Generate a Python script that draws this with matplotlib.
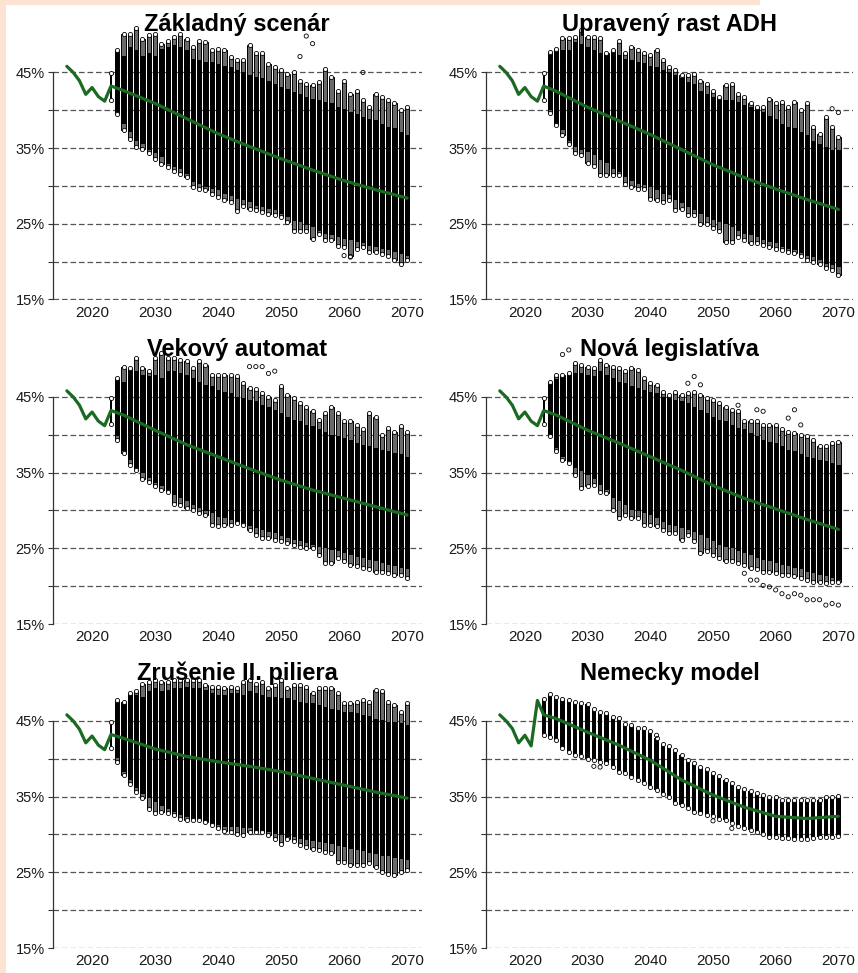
import matplotlib
matplotlib.use("Agg")
import matplotlib.pyplot as plt
from matplotlib.patches import Rectangle
import numpy as np

plt.rcParams['font.family'] = ['Liberation Sans', 'DejaVu Sans']

# ---------------- data (percent) ----------------
YEARS = list(range(2024, 2071))          # simulated columns, panels 1-5
YEARS6 = list(range(2023, 2071))         # panel 6 starts one year earlier
HIST_YEARS = list(range(2016, 2023))
MED_YEARS = [2023, 2025, 2030, 2035, 2040, 2045, 2050, 2055, 2060, 2065, 2070]

HIST = [45.8, 45.0, 43.9, 42.1, 43.0, 41.8, 41.2]
HIST6 = [45.8, 45.0, 44.0, 42.1, 43.1, 41.7, 47.7]

# 2023 narrow column (panels 1-5)
Y2023_HI = 44.9
Y2023_LO = 41.4

TITLES = ['Základný scenár', 'Upravený rast ADH', 'Vekový automat',
          'Nová legislatíva', 'Zrušenie II. piliera', 'Nemecky model']

# Základný scenár
P1_HI = [47.7, 47.2, 48.3, 47.9, 47.2, 47.5, 47.2, 48.1, 48.3, 48.6, 48.3, 47.9,
         46.8, 46.6, 46.4, 46.4, 46.1, 45.9, 45.7, 45.3, 45.0, 44.6,
         44.4, 44.2, 43.9, 43.5, 43.1, 42.8, 42.4, 42.2, 41.7, 41.5,
         41.3, 41.1, 40.9, 40.4, 40.2, 39.8, 39.5, 39.1, 38.9, 38.7,
         38.2, 37.8, 37.6, 37.1, 36.7]
P1_TOP = [47.9, 50.1, 50.1, 50.8, 49.4, 49.9, 50.1, 48.8, 49.2, 49.7, 50.1, 49.4,
          48.3, 49.2, 49.0, 47.9, 48.1, 47.9, 47.0, 46.6, 46.6, 48.6,
          47.5, 47.5, 46.1, 45.7, 45.3, 44.8, 45.0, 43.9, 43.5, 43.3,
          43.7, 45.5, 44.4, 42.6, 43.9, 42.2, 42.6, 41.3, 40.4, 42.2,
          41.7, 41.3, 40.9, 40.0, 40.4]
P1_LO = [39.8, 38.2, 37.1, 36.0, 35.6, 34.7, 34.3, 33.8, 32.9, 32.5, 32.3, 31.6,
         30.5, 30.3, 29.8, 29.6, 29.4, 29.0, 28.7, 28.3, 28.1, 27.9,
         27.4, 27.2, 27.0, 26.8, 26.3, 25.9, 25.4, 25.2, 24.8, 24.6,
         24.1, 23.7, 23.5, 23.2, 23.0, 22.8, 22.6, 22.4, 22.1, 21.9,
         21.7, 21.5, 21.3, 21.0, 20.8]
P1_BOT = [39.5, 37.4, 36.2, 35.1, 34.9, 34.3, 33.6, 32.9, 32.5, 32.0, 31.6, 31.2,
          29.8, 29.6, 29.4, 29.0, 28.5, 28.1, 27.9, 26.7, 27.4, 27.0,
          26.8, 26.5, 26.3, 26.1, 25.9, 25.2, 24.1, 24.1, 24.1, 23.0,
          23.7, 22.8, 22.8, 22.1, 21.9, 20.8, 21.7, 21.9, 21.3, 21.3,
          21.0, 20.8, 20.2, 19.7, 20.2]
P1_MED = [43.2, 42.6, 40.9, 38.9, 36.9, 35.2, 33.6, 32.1, 30.7, 29.5, 28.4]
P1_OUT_X = [2053, 2054, 2055, 2063, 2061, 2060]
P1_OUT_Y = [47.1, 49.8, 48.8, 45.0, 20.6, 20.8]

# Upravený rast ADH
P2_HI = [47.3, 47.7, 47.9, 47.9, 49.0, 48.8, 48.4, 47.9, 47.5, 47.3, 47.5, 47.3,
         46.8, 46.6, 46.4, 46.2, 45.9, 45.7, 45.3, 45.0, 44.6, 44.2,
         43.7, 43.5, 42.6, 42.2, 41.8, 41.3, 41.3, 41.3, 41.1, 40.7,
         40.4, 40.0, 39.8, 39.3, 38.9, 38.2, 37.8, 37.6, 37.1, 36.7,
         36.0, 35.6, 35.2, 34.7, 34.7]
P2_TOP = [47.7, 48.1, 49.5, 49.5, 49.7, 50.6, 49.7, 49.7, 49.5, 47.5, 47.9, 49.2,
          47.5, 48.4, 47.9, 47.5, 47.3, 47.9, 46.6, 45.7, 45.3, 44.6,
          44.6, 44.8, 43.9, 43.5, 42.6, 41.8, 43.3, 43.5, 42.2, 41.8,
          40.9, 40.4, 40.4, 41.5, 40.9, 41.1, 40.4, 41.1, 40.0, 40.9,
          37.8, 36.9, 39.1, 37.8, 36.5]
P2_LO = [40.0, 38.2, 37.4, 36.0, 35.2, 34.7, 34.5, 34.1, 33.4, 33.0, 32.3, 31.8,
         31.2, 30.7, 30.3, 30.1, 29.9, 29.4, 29.0, 28.8, 28.1, 27.7,
         27.2, 26.8, 26.3, 25.9, 25.5, 25.2, 25.0, 24.6, 24.1, 23.7,
         23.5, 23.3, 22.8, 22.6, 22.4, 21.9, 21.7, 21.5, 21.1, 20.8,
         20.6, 20.2, 19.7, 19.5, 19.3]
P2_BOT = [39.6, 38.0, 36.7, 35.6, 34.3, 34.1, 33.0, 32.7, 31.4, 31.4, 31.4, 31.4,
          30.3, 29.9, 29.6, 29.6, 28.3, 28.1, 27.9, 28.1, 26.8, 27.0,
          26.1, 26.1, 25.0, 25.0, 24.4, 24.1, 22.6, 22.6, 23.3, 22.8,
          22.4, 22.4, 22.2, 21.9, 21.7, 21.5, 21.3, 21.1, 20.8, 20.2,
          20.0, 19.7, 19.1, 18.9, 18.2]
P2_MED = [43.2, 42.5, 40.4, 38.6, 36.8, 34.8, 32.8, 31.1, 29.6, 28.2, 26.9]
P2_OUT_X = [2069, 2070]
P2_OUT_Y = [40.2, 39.7]

# Vekový automat
P3_HI = [47.3, 47.0, 48.4, 48.4, 47.9, 47.7, 47.9, 47.5, 48.4, 48.4, 48.1, 47.9,
         47.5, 47.0, 46.6, 46.4, 45.9, 45.7, 45.5, 45.0, 44.8, 44.6,
         44.4, 43.9, 43.7, 43.3, 42.9, 42.4, 42.0, 41.8, 41.3, 41.1,
         40.7, 40.4, 40.0, 39.8, 39.6, 39.3, 38.9, 38.7, 38.5, 38.2,
         38.0, 37.8, 37.6, 37.4, 37.1]
P3_TOP = [47.5, 49.0, 48.8, 50.1, 48.8, 48.4, 50.1, 50.8, 50.1, 50.1, 49.9, 49.7,
          48.8, 49.7, 49.2, 47.9, 47.9, 47.9, 47.9, 47.7, 46.8, 46.2,
          46.0, 45.5, 45.0, 44.6, 46.4, 45.3, 44.8, 44.2, 43.7, 43.1,
          42.0, 42.9, 43.7, 42.9, 41.8, 41.8, 41.3, 40.7, 42.9, 42.4,
          40.0, 40.9, 40.4, 41.1, 40.4]
P3_LO = [39.8, 37.8, 36.7, 35.6, 34.9, 34.3, 33.6, 33.2, 32.7, 32.1, 31.6, 31.2,
         30.7, 30.3, 29.9, 29.6, 29.2, 29.0, 28.8, 28.5, 28.3, 27.9,
         27.7, 27.4, 27.2, 27.0, 26.6, 26.3, 26.1, 25.9, 25.7, 25.5,
         25.2, 25.0, 24.8, 24.6, 24.4, 24.1, 23.9, 23.7, 23.5, 23.3,
         23.0, 22.8, 22.6, 22.4, 22.2]
P3_BOT = [39.3, 37.6, 36.0, 35.4, 34.1, 33.8, 33.2, 32.7, 32.5, 30.9, 30.7, 30.3,
          30.1, 29.6, 29.4, 28.1, 27.9, 28.1, 28.1, 28.3, 28.1, 27.4,
          26.8, 26.3, 26.3, 26.1, 25.9, 25.7, 25.5, 25.2, 25.0, 25.0,
          24.1, 23.0, 23.0, 23.7, 23.3, 22.8, 22.6, 22.4, 22.2, 21.9,
          21.9, 21.7, 21.5, 21.5, 21.1]
P3_MED = [43.2, 42.6, 40.6, 38.7, 37.1, 35.5, 34.0, 32.7, 31.6, 30.5, 29.4]
P3_OUT_X = [2045, 2046, 2047, 2048, 2049]
P3_OUT_Y = [49.0, 49.0, 49.0, 48.1, 48.4]

# Nová legislatíva
P4_HI = [46.8, 47.3, 47.7, 47.9, 48.1, 48.1, 47.9, 47.7, 48.4, 47.9, 47.5, 47.0,
         46.8, 46.4, 46.2, 45.9, 45.7, 45.5, 45.0, 44.8, 44.6, 44.4,
         44.2, 43.7, 43.3, 42.9, 42.4, 42.0, 41.8, 41.3, 40.9, 40.7,
         40.2, 39.8, 39.3, 39.1, 38.9, 38.5, 38.0, 37.8, 37.4, 37.1,
         36.9, 36.7, 36.5, 36.3, 36.0]
P4_TOP = [47.0, 47.9, 47.9, 48.1, 49.5, 49.2, 49.0, 48.8, 49.9, 49.2, 49.0, 48.8,
          48.4, 48.8, 48.6, 47.5, 46.8, 46.6, 45.7, 45.3, 45.7, 45.3,
          45.5, 45.7, 45.3, 44.8, 44.6, 44.2, 43.7, 43.3, 43.1, 41.8,
          41.8, 41.8, 41.3, 41.3, 41.3, 40.7, 40.4, 40.2, 40.0, 39.8,
          39.3, 38.5, 38.5, 38.9, 39.1]
P4_LO = [40.0, 38.2, 37.1, 36.5, 35.6, 35.2, 34.7, 34.1, 33.4, 32.7, 31.6, 31.2,
         30.7, 30.1, 29.9, 29.6, 29.4, 29.0, 28.5, 28.1, 27.9, 27.7,
         27.4, 27.2, 26.8, 26.3, 25.9, 25.5, 25.2, 25.0, 24.6, 24.4,
         24.1, 23.7, 23.5, 23.3, 23.0, 22.8, 22.6, 22.4, 22.2, 21.9,
         21.7, 21.5, 21.3, 21.1, 20.8]
P4_BOT = [39.8, 37.8, 36.7, 36.3, 34.7, 33.0, 33.2, 33.4, 32.5, 32.3, 30.1, 29.0,
          29.4, 29.0, 29.0, 28.1, 28.1, 27.9, 27.4, 27.0, 27.0, 26.1,
          26.8, 25.9, 24.4, 24.6, 24.1, 23.7, 23.3, 23.3, 23.0, 22.8,
          22.4, 22.2, 21.9, 21.9, 21.7, 21.5, 21.5, 21.3, 21.1, 20.8,
          20.6, 20.6, 20.4, 20.6, 20.6]
P4_MED = [43.2, 42.6, 40.6, 38.9, 37.1, 35.3, 33.3, 31.6, 30.2, 28.8, 27.5]
P4_OUT_X = [2026, 2027, 2046, 2047, 2048, 2054, 2057, 2058, 2062, 2063, 2064,
            2055, 2056, 2057, 2058, 2059, 2060, 2061, 2062, 2063, 2064,
            2065, 2066, 2067, 2068, 2069, 2070]
P4_OUT_Y = [50.6, 51.2, 46.8, 47.7, 46.6, 43.9, 43.3, 43.1, 42.2, 43.3, 41.3,
            21.7, 20.8, 20.8, 20.1, 19.9, 19.5, 19.0, 18.6, 19.0, 18.8,
            18.2, 18.2, 18.2, 17.5, 17.7, 17.5]

# Zrušenie II. piliera
P5_HI = [47.3, 47.3, 48.7, 48.4, 48.2, 48.9, 49.3, 48.9, 49.1, 49.3, 49.3, 49.5,
         49.3, 49.3, 49.1, 48.7, 48.4, 48.4, 48.7, 48.7, 48.4, 48.9,
         48.7, 48.4, 48.2, 48.2, 48.0, 48.0, 47.7, 47.5, 47.3, 47.3,
         47.1, 46.9, 46.6, 46.4, 46.2, 46.2, 46.0, 45.8, 45.6, 45.3,
         45.1, 44.9, 44.9, 44.7, 44.5]
P5_TOP = [47.7, 47.5, 48.7, 48.9, 49.9, 50.1, 50.4, 50.1, 50.1, 50.4, 50.4, 50.4,
          50.4, 50.4, 49.7, 49.5, 49.5, 49.3, 49.5, 49.3, 50.1, 50.4,
          49.9, 50.1, 49.3, 49.7, 50.4, 49.3, 49.7, 49.7, 49.5, 48.7,
          49.3, 49.3, 49.3, 48.7, 47.3, 47.3, 47.5, 47.7, 47.5, 49.1,
          48.9, 47.5, 47.1, 46.2, 47.3]
P5_LO = [40.1, 38.3, 37.2, 36.1, 35.4, 34.8, 34.3, 33.7, 33.4, 33.0, 32.6, 32.3,
         32.1, 31.9, 31.7, 31.4, 31.2, 31.0, 31.0, 31.0, 30.8, 30.8,
         30.5, 30.5, 30.3, 30.1, 29.9, 29.6, 29.6, 29.4, 29.3, 29.2,
         29.0, 28.9, 28.7, 28.5, 28.3, 28.1, 27.9, 27.8, 27.6, 27.4,
         27.2, 27.1, 26.9, 26.8, 26.6]
P5_BOT = [39.6, 37.9, 36.7, 35.6, 34.8, 33.4, 32.8, 33.0, 32.8, 32.6, 32.1, 31.9,
          31.9, 31.9, 31.7, 31.2, 30.8, 30.5, 30.3, 30.1, 29.9, 30.3,
          30.3, 30.3, 29.9, 29.4, 28.8, 29.4, 29.2, 28.6, 28.3, 28.1,
          27.9, 27.7, 27.5, 26.4, 26.4, 25.9, 25.9, 25.9, 26.2, 25.7,
          25.0, 24.8, 24.6, 25.0, 25.3]
P5_MED = [43.2, 42.7, 41.3, 40.3, 39.6, 39.0, 38.3, 37.4, 36.5, 35.6, 34.8]

# Nemecky model (2023-2070)
P6_HI = [47.9, 48.6, 48.1, 47.9, 47.7, 47.5, 47.3, 47.2, 46.6, 46.2,
         46.0, 45.5, 45.4, 44.6, 44.4, 44.1, 44.0, 43.7, 42.8, 42.0,
         41.7, 41.1, 40.5, 39.9, 39.4, 38.9, 38.6, 38.1, 37.7, 37.2,
         36.8, 36.3, 36.0, 35.7, 35.5, 35.2, 35.0, 34.9, 34.6, 34.5,
         34.6, 34.6, 34.6, 34.6, 34.6, 35.0, 34.9, 35.1]
P6_LO = [43.1, 42.9, 42.5, 41.4, 40.9, 40.5, 40.3, 40.0, 39.8, 39.6,
         39.4, 38.9, 38.3, 38.1, 37.6, 37.2, 36.8, 36.3, 35.9, 35.4,
         35.0, 34.1, 33.9, 33.5, 33.0, 32.8, 32.6, 32.4, 32.1, 31.9,
         31.5, 31.1, 30.8, 30.6, 30.3, 30.1, 29.7, 29.6, 29.5, 29.5,
         29.4, 29.4, 29.4, 29.5, 29.6, 29.7, 29.7, 29.8]
P6_MED = [45.8, 45.3, 43.5, 41.8, 39.8, 37.2, 35.2, 33.6, 32.4, 32.1, 32.4]
P6_OUT_X = [2031, 2032, 2041, 2050, 2053]
P6_OUT_Y = [39.0, 38.9, 43.1, 31.8, 30.8]

# ---------------- layout (pixels of the 858x973 canvas) ----------------
W_PX, H_PX = 858, 973
XLIM = (2013.8, 2072.3)
YLIM = (15, 51.6)
COL_LEFT = [53, 486]
COL_PPY = [6.3, 6.27]
ROW_BASE = [299.5, 624, 948]
PPP = 7.57
GREEN = '#1b6a22'
BAR_W = 0.68


def setup_axes(fig, row, col):
    left = COL_LEFT[col] / W_PX
    width = (XLIM[1] - XLIM[0]) * COL_PPY[col] / W_PX
    height = (YLIM[1] - YLIM[0]) * PPP / H_PX
    bottom = (H_PX - ROW_BASE[row]) / H_PX
    ax = fig.add_axes([left, bottom, width, height])
    ax.patch.set_alpha(0)
    ax.set_xlim(*XLIM)
    ax.set_ylim(*YLIM)
    for s in ['top', 'right', 'bottom']:
        ax.spines[s].set_visible(False)
    ax.spines['left'].set_bounds(15, 45)
    ax.spines['left'].set_color('#333333')
    ax.spines['left'].set_linewidth(0.9)
    ax.set_yticks([15, 20, 25, 30, 35, 40, 45])
    ax.set_yticklabels(['15%', '', '25%', '', '35%', '', '45%'])
    ax.set_xticks(list(range(2020, 2071, 10)))
    ax.tick_params(axis='x', length=0, pad=4.5, labelsize=11, labelcolor='#1a1a1a')
    ax.tick_params(axis='y', length=3.5, width=0.8, pad=2.5, labelsize=10.5,
                   color='#333333', labelcolor='#1a1a1a')
    for v in range(15, 50, 5):
        ax.axhline(v, color='#555555', lw=0.9, ls=(0, (4.5, 2.3)), zorder=1)
    return ax


def draw_columns(ax, years, hi, lo, top=None, bot=None, width=BAR_W):
    years = np.array(years)
    hi = np.array(hi)
    lo = np.array(lo)
    if top is not None:
        top = np.array(top)
        bot = np.array(bot)
        # sparser tails of the simulated distribution
        ax.bar(years, top - bot, bottom=bot, width=width, facecolor='#6a6a6a',
               edgecolor='black', linewidth=0.7, zorder=2)
    else:
        top, bot = hi, lo
    ax.bar(years, hi - lo, bottom=lo, width=width, color='black', linewidth=0, zorder=3)
    ax.scatter(years, top, s=9, facecolors='white', edgecolors='black', linewidths=0.6, zorder=3)
    ax.scatter(years, bot, s=9, facecolors='white', edgecolors='black', linewidths=0.6, zorder=3)


def draw_panel(ax, title, hist, med, hi, lo, top, bot, years, out_x=None, out_y=None, thin2023=True):
    if thin2023:
        draw_columns(ax, [2023], [Y2023_HI], [Y2023_LO], width=0.35)
    draw_columns(ax, years, hi, lo, top, bot)
    if out_x:
        ax.scatter(out_x, out_y, s=9, facecolors='none', edgecolors='black',
                   linewidths=0.6, zorder=3)
    ax.plot(HIST_YEARS + MED_YEARS, hist + med, color=GREEN, lw=2.3,
            solid_joinstyle='round', solid_capstyle='round', zorder=5)
    ax.text(0.5, 1 - 2.5 / ((YLIM[1] - YLIM[0]) * PPP), title, transform=ax.transAxes,
            ha='center', va='center', fontsize=17, fontweight='bold', color='black', zorder=10)


fig = plt.figure(figsize=(W_PX / 100, H_PX / 100), dpi=100)
fig.patch.set_facecolor('white')
# slide background peeking out at the left and top edges
fig.add_artist(Rectangle((0, 0), 6 / W_PX, 1, transform=fig.transFigure,
                         facecolor='#fce3d3', edgecolor='none', zorder=0))
fig.add_artist(Rectangle((0, 1 - 5 / H_PX), 760 / W_PX, 5 / H_PX, transform=fig.transFigure,
                         facecolor='#fce3d3', edgecolor='none', zorder=0))

ax1 = setup_axes(fig, 0, 0)
draw_panel(ax1, TITLES[0], HIST, P1_MED, P1_HI, P1_LO, P1_TOP, P1_BOT, YEARS, P1_OUT_X, P1_OUT_Y)

ax2 = setup_axes(fig, 0, 1)
draw_panel(ax2, TITLES[1], HIST, P2_MED, P2_HI, P2_LO, P2_TOP, P2_BOT, YEARS, P2_OUT_X, P2_OUT_Y)

ax3 = setup_axes(fig, 1, 0)
draw_panel(ax3, TITLES[2], HIST, P3_MED, P3_HI, P3_LO, P3_TOP, P3_BOT, YEARS, P3_OUT_X, P3_OUT_Y)

ax4 = setup_axes(fig, 1, 1)
draw_panel(ax4, TITLES[3], HIST, P4_MED, P4_HI, P4_LO, P4_TOP, P4_BOT, YEARS, P4_OUT_X, P4_OUT_Y)

ax5 = setup_axes(fig, 2, 0)
draw_panel(ax5, TITLES[4], HIST, P5_MED, P5_HI, P5_LO, P5_TOP, P5_BOT, YEARS)

ax6 = setup_axes(fig, 2, 1)
draw_panel(ax6, TITLES[5], HIST6, P6_MED, P6_HI, P6_LO, None, None, YEARS6,
           P6_OUT_X, P6_OUT_Y, thin2023=False)

fig.savefig('out.png', dpi=100)
